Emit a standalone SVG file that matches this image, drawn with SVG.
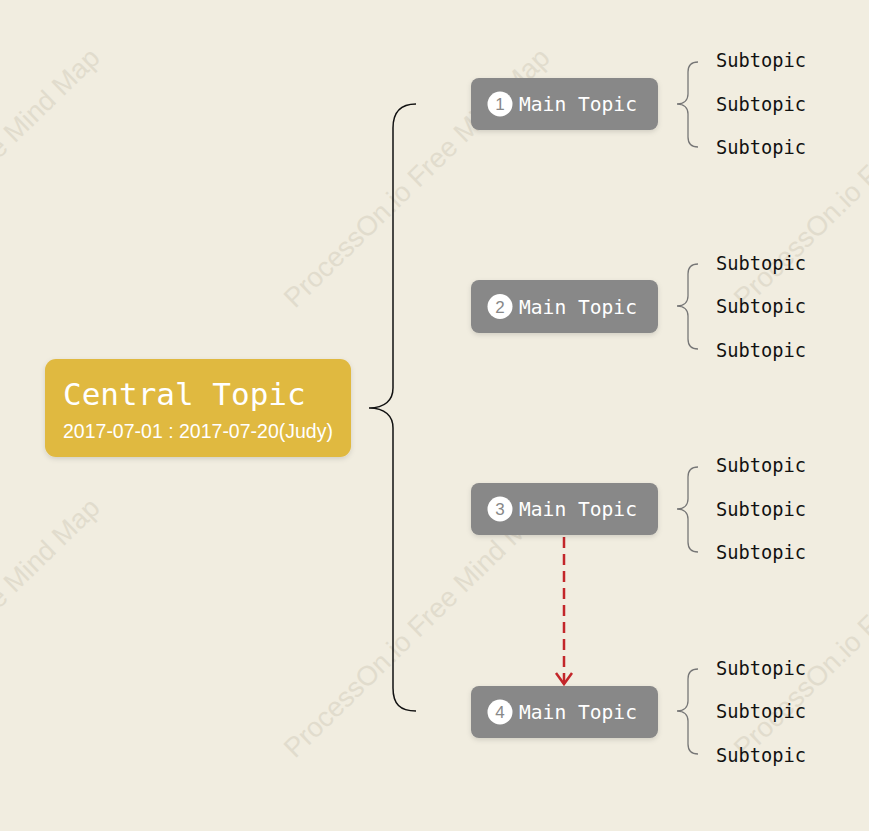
<svg xmlns="http://www.w3.org/2000/svg" width="869" height="831" viewBox="0 0 869 831">
  <defs>
    <style>
      .wm { font-family: "Liberation Sans", Arial, sans-serif; font-size: 27.5px; fill: #e1dccd; }
      .main-box { fill: #888888; }
      .main-text { font-family: "DejaVu Sans Mono", monospace; font-size: 19.6px; fill: #ffffff; }
      .badge { fill: #ffffff; }
      .badge-num { font-family: "Liberation Sans", Arial, sans-serif; font-size: 17px; fill: #888888; text-anchor: middle; }
      .sub-text { font-family: "DejaVu Sans Mono", monospace; font-size: 18.7px; fill: #111111; }
      .brace-big { fill: none; stroke: #111111; stroke-width: 1.5; }
      .brace-small { fill: none; stroke: #777777; stroke-width: 1.3; }
      .relation { fill: none; stroke: #c3262a; stroke-width: 2.5; stroke-dasharray: 11 6; }
    </style>
    <filter id="shadow" x="-10%" y="-20%" width="120%" height="150%">
      <feDropShadow dx="0" dy="2" stdDeviation="2.5" flood-color="#000000" flood-opacity="0.13"/>
    </filter>
    <marker id="arrow" markerUnits="userSpaceOnUse" viewBox="-14 -10 16 20" markerWidth="16" markerHeight="20" refX="0" refY="0" orient="auto" overflow="visible">
      <path d="M -11 -8 L 0 0 L -11 8" fill="none" stroke="#c3262a" stroke-width="2.5" stroke-linejoin="miter"/>
    </marker>
  </defs>

  <rect x="0" y="0" width="869" height="831" fill="#f1ede0"/>

  <g id="watermark">
    <text class="wm" transform="translate(-155,309) rotate(-44.2)">ProcessOn.io Free Mind Map</text>
    <text class="wm" transform="translate(295,309) rotate(-44.2)">ProcessOn.io Free Mind Map</text>
    <text class="wm" transform="translate(745,309) rotate(-44.2)">ProcessOn.io Free Mind Map</text>
    <text class="wm" transform="translate(-155,759) rotate(-44.2)">ProcessOn.io Free Mind Map</text>
    <text class="wm" transform="translate(295,759) rotate(-44.2)">ProcessOn.io Free Mind Map</text>
    <text class="wm" transform="translate(745,759) rotate(-44.2)">ProcessOn.io Free Mind Map</text>
  </g>

  <g id="connectors">
    <path class="brace-big" d="M 416 104 C 400 104 393 112 393 128 L 393 388 C 393 400 385 408 369 408 C 385 408 393 416 393 428 L 393 688 C 393 704 400 711 416 711"/>
    <path class="brace-small" d="M 698 62 C 691 62 688 66 688 72 L 688 94 C 688 100 684 104 677 104 C 684 104 688 108 688 114 L 688 137 C 688 143 691 147 698 147"/>
    <path class="brace-small" d="M 698 264 C 691 264 688 268 688 274 L 688 296 C 688 302 684 306 677 306 C 684 306 688 310 688 316 L 688 339 C 688 345 691 349 698 349"/>
    <path class="brace-small" d="M 698 467 C 691 467 688 471 688 477 L 688 499 C 688 505 684 509 677 509 C 684 509 688 513 688 519 L 688 542 C 688 548 691 552 698 552"/>
    <path class="brace-small" d="M 698 669 C 691 669 688 673 688 679 L 688 701 C 688 707 684 711 677 711 C 684 711 688 715 688 721 L 688 744 C 688 750 691 754 698 754"/>
    <path class="relation" d="M 564 537 L 564 684" marker-end="url(#arrow)"/>
  </g>

  <g id="central-topic">
    <rect x="45" y="359" width="306" height="98" rx="11" fill="#e0b940" filter="url(#shadow)"/>
    <text x="63" y="405" font-family="DejaVu Sans Mono, monospace" font-size="31" fill="#ffffff">Central Topic</text>
    <text x="63" y="438" font-family="Liberation Sans, Arial, sans-serif" font-size="19.5" fill="#ffffff">2017-07-01 : 2017-07-20(Judy)</text>
  </g>

  <g id="main-topic-1">
    <rect class="main-box" x="471" y="78" width="187" height="52" rx="8" filter="url(#shadow)"/>
    <circle class="badge" cx="500" cy="104" r="12.5"/>
    <text class="badge-num" x="500" y="110">1</text>
    <text class="main-text" x="519" y="111">Main Topic</text>
  </g>
  <g id="main-topic-2">
    <rect class="main-box" x="471" y="280" width="187" height="53" rx="8" filter="url(#shadow)"/>
    <circle class="badge" cx="500" cy="306.5" r="12.5"/>
    <text class="badge-num" x="500" y="312.5">2</text>
    <text class="main-text" x="519" y="313.5">Main Topic</text>
  </g>
  <g id="main-topic-3">
    <rect class="main-box" x="471" y="483" width="187" height="52" rx="8" filter="url(#shadow)"/>
    <circle class="badge" cx="500" cy="509" r="12.5"/>
    <text class="badge-num" x="500" y="515">3</text>
    <text class="main-text" x="519" y="516">Main Topic</text>
  </g>
  <g id="main-topic-4">
    <rect class="main-box" x="471" y="686" width="187" height="52" rx="8" filter="url(#shadow)"/>
    <circle class="badge" cx="500" cy="712" r="12.5"/>
    <text class="badge-num" x="500" y="718">4</text>
    <text class="main-text" x="519" y="719">Main Topic</text>
  </g>

  <g id="subtopics-1">
    <text class="sub-text" x="716" y="67">Subtopic</text>
    <text class="sub-text" x="716" y="111">Subtopic</text>
    <text class="sub-text" x="716" y="154">Subtopic</text>
  </g>
  <g id="subtopics-2">
    <text class="sub-text" x="716" y="270">Subtopic</text>
    <text class="sub-text" x="716" y="313">Subtopic</text>
    <text class="sub-text" x="716" y="357">Subtopic</text>
  </g>
  <g id="subtopics-3">
    <text class="sub-text" x="716" y="472">Subtopic</text>
    <text class="sub-text" x="716" y="516">Subtopic</text>
    <text class="sub-text" x="716" y="559">Subtopic</text>
  </g>
  <g id="subtopics-4">
    <text class="sub-text" x="716" y="675">Subtopic</text>
    <text class="sub-text" x="716" y="718">Subtopic</text>
    <text class="sub-text" x="716" y="762">Subtopic</text>
  </g>
</svg>
